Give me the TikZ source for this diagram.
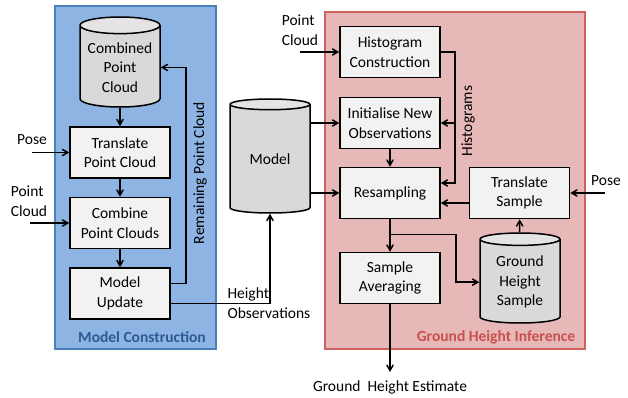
\documentclass[tikz,border=0pt]{standalone}
\usepackage{fontspec}
\setmainfont{Carlito}
\usetikzlibrary{arrows,shapes.geometric}
\definecolor{mcfill}{HTML}{8DB4E2}
\definecolor{mcline}{HTML}{4A7EBB}
\definecolor{mctext}{HTML}{2E5A94}
\definecolor{ghfill}{HTML}{E6B9B8}
\definecolor{ghline}{HTML}{D0605E}
\definecolor{ghtext}{HTML}{C9504D}
\definecolor{boxgray}{HTML}{F2F2F2}
\definecolor{cylbody}{HTML}{D9D9D9}
\definecolor{cylend}{HTML}{E4E4E4}

\begin{document}
\begin{tikzpicture}[x=1pt,y=1pt,node distance=70.5pt,>=angle 60,
  font=\fontsize{15.5}{19.5}\selectfont,
  box/.style={rectangle,draw,line width=1.5pt,fill=boxgray,minimum width=100pt,minimum height=51pt,align=center,inner sep=2pt},
  store/.style={cylinder,draw,line width=1.5pt,shape border rotate=90,aspect=0.25,minimum width=80pt,minimum height=90pt,cylinder uses custom fill,cylinder body fill=cylbody,cylinder end fill=cylend,align=center,inner sep=1pt,anchor=shape center},
  link/.style={->,line width=1.5pt}]
\useasboundingbox (0,0) rectangle (628,-398);
\draw[mcline,line width=1.5pt,fill=mcfill] (55,-6) rectangle (216,-349);
\draw[ghline,line width=1.5pt,fill=ghfill] (325,-12) rectangle (585,-349);
\node[text=mctext,font=\fontsize{15.5}{19.5}\selectfont\bfseries] (mclab) at (142,-337) {Model Construction};
\node[text=ghtext,font=\fontsize{15.5}{19.5}\selectfont\bfseries] (ghlab) at (496,-337) {Ground Height Inference};

\node[store] (pcdb) at (120,-62) {Combined\\Point\\Cloud};
\node[box] (trans) at (120,-152.5) {Translate\\Point Cloud};
\node[box,below of = trans] (comb) {Combine\\Point Clouds};
\node[box,below of = comb] (upd) {Model\\Update};
\node[store,minimum height=114pt] (model) at (270,-156) {Model};
\node[box] (hist) at (390,-52) {Histogram\\Construction};
\node[box,below of = hist,yshift=-0.5pt] (init) {Initialise New\\Observations};
\node[box,below of = init,yshift=0.5pt] (resamp) {Resampling};
\node[box,below of = resamp,yshift=-14.5pt] (avg) {Sample\\Averaging};
\node[box,right of = resamp,xshift=59pt] (tsamp) {Translate\\Sample};
\node[store,right of = avg,xshift=59.5pt,anchor=shape center] (ghs) {Ground\\Height\\Sample};

\node (poseL) at (32,-140) {Pose};
\coordinate (poseLin) at (32,-152.5);
\node[align=left] (pcL) at (29,-201) {Point\\Cloud};
\coordinate (pcLin) at (30,-223);
\node[align=left] (pcT) at (300,-30) {Point\\Cloud};
\coordinate (pcTin) at (300,-52);
\node (poseR) at (606,-181) {Pose};
\coordinate (poseRin) at (605,-193);
\node[rotate=90] (remlab) at (200,-173) {Remaining Point Cloud};
\node[rotate=90] (histlab) at (468,-121) {Histograms};
\node[align=left,anchor=west] (hobs) at (224,-303) {Height\\Observations};
\coordinate (estin) at (390,-372);
\node (est) at (390,-387) {Ground~ Height Estimate};

\draw [link] (pcdb) -- (trans);
\draw [link] (trans) -- (comb);
\draw [link] (comb) -- (upd);
\draw [link] ([yshift=10pt]upd.east) -- ++(15,0) |- (pcdb);
\draw [link] ([yshift=-10pt]upd.east) -| (model);
\draw [link] (poseLin) -- (trans.west);
\draw [link] (pcLin) -- (comb.west);
\draw [link] (pcTin) -- (hist.west);
\draw [link] (model.east |- init.west) -- (init.west);
\draw [link] (model.east |- resamp.west) -- (resamp.west);
\coordinate (hbus) at ([xshift=14pt]hist.east);
\draw [link] (hist.east) -- (hbus) |- ([yshift=10pt]resamp.east);
\draw [link] (hbus) |- (init.east);
\draw [link] (init) -- (resamp);
\draw [link] ([yshift=-10pt]tsamp.west) -- ([yshift=-10pt]resamp.east);
\draw [link] (poseRin) -- (tsamp.east);
\draw [link] (ghs) -- (tsamp);
\draw [link] (resamp) -- (avg);
\coordinate (rsplit) at ([yshift=-15pt]resamp.south);
\draw [link] (rsplit) -- ++(66,0) |- (ghs);
\draw [link] (avg) -- (estin);
    %
\end{tikzpicture}
\end{document}
